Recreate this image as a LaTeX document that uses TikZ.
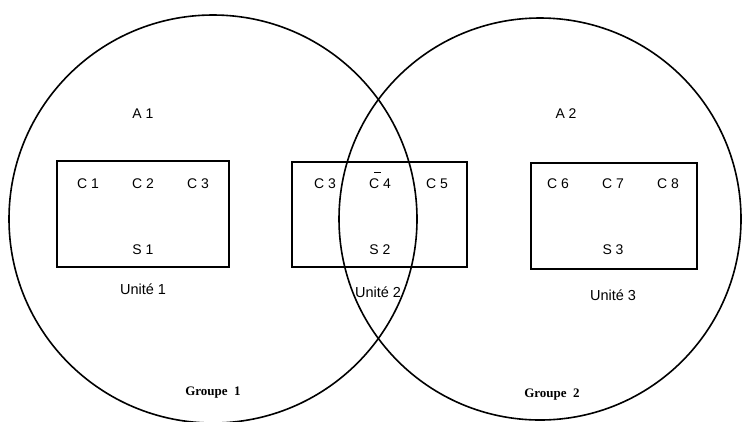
\documentclass[tikz,border=0pt]{standalone}
\usepackage{fontspec}
\setmainfont{Liberation Sans}
\newfontfamily\grpfont{Liberation Serif}
\begin{document}
\begin{tikzpicture}[x=1pt,y=-1pt,
  grp/.style={draw, line width=1.6pt, circle, inner sep=0pt},
  unitbox/.style={draw, line width=2pt, rectangle, inner sep=0pt},
  lab/.style={inner sep=0pt, font=\fontsize{14}{16}\selectfont},
  ulab/.style={inner sep=0pt, font=\fontsize{14.5}{16}\selectfont},
  glab/.style={inner sep=0pt, font=\grpfont\bfseries\fontsize{13}{15}\selectfont}]
\useasboundingbox (0,0) rectangle (743,421);
\node[grp, minimum size=408pt] (g1) at (213,219) {};
\node[grp, minimum size=402pt] (g2) at (540,219) {};
\node[unitbox, minimum width=172pt, minimum height=106pt] (u1) at (143,214) {};
\node[unitbox, minimum width=175pt, minimum height=105pt] (u2) at (379.5,214.5) {};
\node[unitbox, minimum width=166pt, minimum height=106pt] (u3) at (614,216) {};
\node[lab] (a1) at (143,114) {A 1};
\node[lab] (a2) at (566,114) {A 2};
\node[lab] (c1) at (88,184) {C 1};
\node[lab] (c2) at (143,184) {C 2};
\node[lab] (c3) at (198,184) {C 3};
\node[lab] (s1) at (143,250) {S 1};
\node[lab] (c3b) at (325,184) {C 3};
\node[lab] (c4) at (380,184) {C 4};
\draw[line width=0.8pt] (374,172) -- (381,172);
\node[lab] (c5) at (437,184) {C 5};
\node[lab] (s2) at (380,250) {S 2};
\node[lab] (c6) at (558,184) {C 6};
\node[lab] (c7) at (613,184) {C 7};
\node[lab] (c8) at (668,184) {C 8};
\node[lab] (s3) at (613,250) {S 3};
\node[ulab] (n1) at (143,289) {Unité 1};
\node[ulab] (n2) at (378,292) {Unité 2};
\node[ulab] (n3) at (613,295) {Unité 3};
\node[glab] (t1) at (213,393) {Groupe\ \ 1};
\node[glab] (t2) at (552,395) {Groupe\ \ 2};
\end{tikzpicture}
\end{document}
